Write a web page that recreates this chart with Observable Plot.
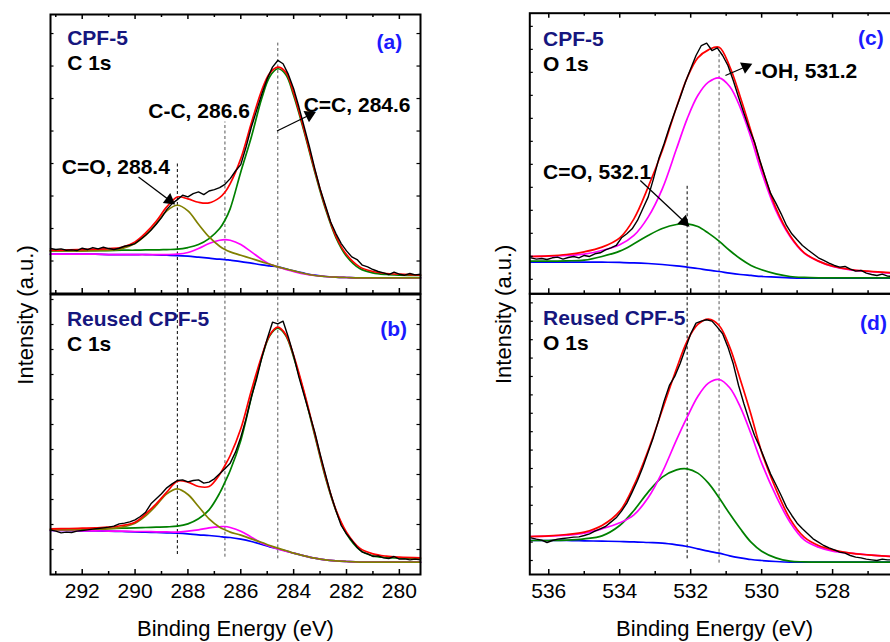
<!DOCTYPE html>
<html><head><meta charset="utf-8">
<script src="https://cdn.jsdelivr.net/npm/d3@7"></script>
<script src="https://cdn.jsdelivr.net/npm/@observablehq/plot@0.6"></script>
<style>
html,body{margin:0;padding:0;background:#fff;overflow:hidden;}
#chart{position:relative;width:890px;height:642px;overflow:hidden;background:#fff;}
#chart > div{position:absolute;left:0;top:0;}
</style></head><body><div id="chart"></div>
<script>
// ---------- C 1s (panels a, b) ----------
const cFitX = [293.2, 292.5, 292, 291.5, 291, 290.5, 290, 289.6, 289.2, 288.8, 288.4, 288, 287.6, 287.2, 286.8, 286.6, 286.4, 286, 285.6, 285.2, 284.9, 284.6, 284.3, 284, 283.6, 283.2, 282.8, 282.4, 282, 281.5, 281, 280.5, 280, 279.2];
const cDataX = [293.2, 293.0, 292.8, 292.6, 292.4, 292.2, 292.0, 291.8, 291.6, 291.4, 291.2, 291.0, 290.8, 290.6, 290.4, 290.2, 290.0, 289.8, 289.6, 289.4, 289.2, 289.0, 288.8, 288.6, 288.4, 288.2, 288.0, 287.8, 287.6, 287.4, 287.2, 287.0, 286.8, 286.6, 286.4, 286.2, 286.0, 285.8, 285.6, 285.4, 285.2, 285.0, 284.8, 284.6, 284.4, 284.2, 284.0, 283.8, 283.6, 283.4, 283.2, 283.0, 282.8, 282.6, 282.4, 282.2, 282.0, 281.8, 281.6, 281.4, 281.2, 281.0, 280.8, 280.6, 280.4, 280.2, 280.0, 279.8, 279.6, 279.4, 279.2];

const aData  = [135,132,134,130,131,129,136,132,138,134,139,135,132,136,142,145,150,162,175,190,208,228,252,270,282,295,290,300,305,297,308,312,318,328,345,368,387,440,500,550,600,645,680,700,690,658,615,560,500,440,375,315,265,215,180,150,128,110,102,85,80,72,66,62,57,64,58,55,60,56,58];
const aRed   = [130,131,132,133,135,139,155,182,217,260,290,284,274,272,288,304,330,405,512,612,662,680,665,602,490,370,260,172,117,80,66,60,58,55];
const aGreen = [128,128,128,129,129,130,130,131,131,132,133,138,147,165,195,220,255,365,470,588,652,675,658,595,485,365,255,168,112,75,62,57,55,54];
const aOlive = [128,128,128,129,130,135,150,175,210,248,265,248,208,170,142,132,125,115,105,95,88,80,74,68,60,54,51,49,48,47,47,47,47,47];
const aMag   = [118,118,118,118,117,117,117,117,117,117,118,123,135,150,160,162,160,147,125,102,88,80,72,66,59,54,51,49,48,47,47,47,47,47];
const aBlue  = [118,118,118,118,117,117,117,117,116,115,114,112,109,106,103,102,100,96,91,86,83,80,74,68,61,55,51,49,48,47,47,47,47,47];

const bData  = [134,130,125,127,126,130,132,134,136,138,140,142,145,152,154,158,164,174,187,212,227,242,260,272,282,284,278,282,284,274,277,287,302,317,334,367,412,467,532,587,652,707,757,752,760,712,657,592,537,482,427,362,302,242,192,147,122,102,82,67,62,54,56,50,48,54,46,47,44,46,44];
const bRed   = [137,138,139,140,142,147,157,182,212,247,280,277,264,264,300,327,357,437,552,657,719,742,720,657,547,422,297,194,127,79,62,55,52,50];
const bGreen = [134,135,136,137,138,139,140,141,142,143,145,152,167,194,244,277,312,402,532,652,717,739,717,652,542,417,292,192,122,74,56,51,49,48];
const bOlive = [134,134,135,136,137,142,154,176,207,242,257,240,204,167,142,134,127,118,107,96,87,79,72,64,56,49,44,41,39,37,37,37,37,37];
const bMag   = [132,132,131,131,130,130,129,129,128,128,127,130,134,140,143,144,141,130,112,94,85,77,70,64,56,49,44,41,39,37,37,37,37,37];
const bBlue  = [132,132,131,131,130,129,128,127,126,125,124,122,119,117,114,112,111,106,99,90,83,77,71,64,56,49,44,41,39,37,37,37,37,37];

// ---------- O 1s (panels c, d) ----------
const oFitX = [536.53, 536, 535.5, 535, 534.5, 534, 533.6, 533.2, 532.8, 532.4, 532.1, 531.8, 531.5, 531.2, 530.9, 530.6, 530.3, 530, 529.6, 529.2, 528.8, 528.4, 528, 527.5, 527, 526.5, 526.1];
const oDataX = [536.5, 536.35, 536.2, 536.05, 535.9, 535.75, 535.6, 535.45, 535.3, 535.15, 535.0, 534.85, 534.7, 534.55, 534.4, 534.25, 534.1, 533.95, 533.8, 533.65, 533.5, 533.35, 533.2, 533.05, 532.9, 532.75, 532.6, 532.45, 532.3, 532.15, 532.0, 531.85, 531.7, 531.55, 531.4, 531.25, 531.1, 530.95, 530.8, 530.65, 530.5, 530.35, 530.2, 530.05, 529.9, 529.75, 529.6, 529.45, 529.3, 529.15, 529.0, 528.85, 528.7, 528.55, 528.4, 528.25, 528.1, 527.95, 527.8, 527.65, 527.5, 527.35, 527.2, 527.05, 526.9, 526.75, 526.6, 526.45, 526.3, 526.15];

const cData  = [108,104,106,103,108,110,104,109,112,108,115,112,120,123,132,138,145,168,180,195,220,255,290,345,405,450,500,545,588,635,675,715,745,752,730,738,715,685,640,590,542,495,455,400,350,302,272,240,205,180,162,145,132,120,108,100,92,85,80,82,74,68,70,62,58,55,59,53,52,52];
const cRed   = [112,114,118,126,140,168,225,320,430,560,648,708,732,740,682,590,488,380,258,175,123,98,83,73,68,64,62];
const cMag   = [112,113,115,119,130,147,175,230,315,435,525,595,635,648,622,558,468,365,250,172,122,98,82,72,67,63,61];
const cGreen = [98,98,99,101,112,128,150,175,196,208,210,202,182,158,130,105,85,72,60,52,49,48,48,48,48,48,48];
const cBlue  = [95,95,95,95,95,94,93,91,88,84,80,76,71,67,62,58,55,52,50,48,47,47,47,47,47,47,47];

const dData  = [110,106,103,96,102,106,108,110,112,113,117,122,130,137,144,157,170,190,214,247,282,322,367,412,464,520,567,594,632,677,722,754,760,764,760,742,722,682,632,567,512,462,417,382,342,302,270,237,202,177,154,137,122,107,97,87,80,74,67,64,57,52,50,46,44,42,46,44,44,43];
const dRed   = [114,116,120,127,147,190,267,372,494,617,700,750,766,747,682,584,480,367,257,167,112,87,74,64,59,55,53];
const dMag   = [114,115,118,124,137,155,179,230,307,404,472,534,574,585,560,502,422,334,237,157,104,82,70,64,59,55,53];
const dGreen = [102,102,103,107,116,147,192,247,292,314,317,304,274,230,182,137,97,70,50,40,38,37,37,37,37,37,37];
const dBlue  = [102,102,102,101,100,99,98,96,94,89,84,77,70,64,56,50,45,42,39,37,37,37,37,37,37,37,37];

// ---------- ticks and labels ----------
const cMajorTicks = [292, 290, 288, 286, 284, 282, 280];
const cMinorTicks = [293, 291, 289, 287, 285, 283, 281];
const oMajorTicks = [536, 534, 532, 530, 528];
const oMinorTicks = [535, 533, 531, 529, 527];
const xTitle = "Binding Energy (eV)";
const yTitle = "Intensity (a.u.)";

const NAVY = "#16167e", BLUE = "#1a1aff";
const aTexts = [
  {text: "CPF-5", x: 292.57, y: 745, fill: NAVY, anchor: "start"},
  {text: "C 1s", x: 292.57, y: 670, fill: "#000", anchor: "start"},
  {text: "(a)", x: 279.89, y: 733, fill: BLUE, anchor: "end"},
  {text: "C-C, 286.6", x: 289.50, y: 526, fill: "#000", anchor: "start"},
  {text: "C=C, 284.6", x: 283.62, y: 545, fill: "#000", anchor: "start"},
  {text: "C=O, 288.4", x: 292.77, y: 358, fill: "#000", anchor: "start"}
];
const bTexts = [
  {text: "Reused CPF-5", x: 292.58, y: 747, fill: NAVY, anchor: "start"},
  {text: "C 1s", x: 292.58, y: 672, fill: "#000", anchor: "start"},
  {text: "(b)", x: 279.71, y: 717, fill: BLUE, anchor: "end"}
];
const cTexts = [
  {text: "CPF-5", x: 536.16, y: 745, fill: NAVY, anchor: "start"},
  {text: "O 1s", x: 536.16, y: 670, fill: "#000", anchor: "start"},
  {text: "(c)", x: 526.56, y: 747, fill: BLUE, anchor: "end"},
  {text: "-OH, 531.2", x: 530.20, y: 648, fill: "#000", anchor: "start"},
  {text: "C=O, 532.1", x: 536.16, y: 345, fill: "#000", anchor: "start"}
];
const dTexts = [
  {text: "Reused CPF-5", x: 536.16, y: 747, fill: NAVY, anchor: "start"},
  {text: "O 1s", x: 536.16, y: 672, fill: "#000", anchor: "start"},
  {text: "(d)", x: 526.47, y: 732, fill: BLUE, anchor: "end"}
];
const aArrows = [{x1: 284.63, y1: 488, x2: 283.30, y2: 540}, {x1: 289.87, y1: 350, x2: 288.61, y2: 275}];
const cArrows = [{x1: 531.02, y1: 655, x2: 530.37, y2: 685}, {x1: 533.42, y1: 340, x2: 532.12, y2: 210}];
const aDashes = [{x: 288.4, y1: 0, y2: 395, color: "#000"}, {x: 286.6, y1: 0, y2: 515, color: "#555"}, {x: 284.6, y1: 0, y2: 752, color: "#555"}];
const bDashes = [{x: 288.4, y1: 60, y2: 840, color: "#000"}, {x: 286.6, y1: 52, y2: 840, color: "#555"}, {x: 284.6, y1: 47, y2: 840, color: "#555"}];
const cDashes = [{x: 532.1, y1: 0, y2: 325, color: "#000"}, {x: 531.2, y1: 0, y2: 730, color: "#555"}];
const dDashes = [{x: 532.1, y1: 47, y2: 842, color: "#000"}, {x: 531.2, y1: 34, y2: 842, color: "#555"}];

const FONT = "'Liberation Sans', Arial, Helvetica, sans-serif";

function table(xs, ys) { return xs.map((x, i) => ({x, y: ys[i]})); }

function panel(o) {
  const H = 642;
  const fw = o.right - o.left, fh = o.bottom - o.top;
  const sx = fw / (o.xDomain[1] - o.xDomain[0]);   // px per eV (signed)
  const sy = fh / o.yMax;                          // px per unit
  const marks = [];
  for (const d of o.dashes) marks.push(Plot.ruleX([d], {x: "x", y1: "y1", y2: "y2", stroke: d.color, strokeWidth: 1, strokeDasharray: "3,2.5"}));
  const fits = [["blue", o.blue], ["green", o.green], ["magenta", o.mag]];
  if (o.olive) fits.push(["#808000", o.olive]);
  fits.push(["red", o.red]);
  for (const [col, ys] of fits) marks.push(Plot.line(table(o.fitX, ys), {x: "x", y: "y", stroke: col, strokeWidth: 1.7, curve: "catmull-rom"}));
  marks.push(Plot.line(table(o.dataX, o.data), {x: "x", y: "y", stroke: "black", strokeWidth: 1.4}));
  if (o.arrows) {
    // arrow heads: filled triangles pulled back ~3px from the arrow end along its direction
    const heads = o.arrows.map(d => {
      const px = (d.x2 - d.x1) * sx, py = -(d.y2 - d.y1) * sy;
      const len = Math.hypot(px, py), back = 3;
      return {x: d.x2 - (px / len) * back / sx, y: d.y2 + (py / len) * back / sy,
              angle: Math.atan2(py, px) * 180 / Math.PI + 90};
    });
    marks.push(Plot.link(o.arrows, {x1: "x1", y1: "y1", x2: "x2", y2: "y2", stroke: "black", strokeWidth: 1.3}));
    marks.push(Plot.dot(heads, {x: "x", y: "y", symbol: "triangle", r: 4.6, fill: "black", stroke: null, rotate: "angle"}));
  }
  for (const t of o.texts) marks.push(Plot.text([t], {x: "x", y: "y", text: "text", fill: t.fill, textAnchor: t.anchor, lineAnchor: "bottom", fontSize: 21, fontWeight: "bold"}));
  // ticks (inward)
  marks.push(Plot.tickX(o.major, {x: d => d, insetTop: fh - 5, stroke: "black", strokeWidth: 1.5}));
  marks.push(Plot.tickX(o.minor, {x: d => d, insetTop: fh - 3, stroke: "black", strokeWidth: 1.5}));
  if (o.topTicks) {
    marks.push(Plot.tickX(o.major, {x: d => d, insetBottom: fh - 5, stroke: "black", strokeWidth: 1.5}));
    marks.push(Plot.tickX(o.minor, {x: d => d, insetBottom: fh - 3, stroke: "black", strokeWidth: 1.5}));
  }
  marks.push(Plot.tickY(o.yTicks, {y: d => d, insetRight: fw - 3.5, stroke: "black", strokeWidth: 1.2}));
  marks.push(Plot.tickY(o.yTicks, {y: d => d, insetLeft: fw - 3.5, stroke: "black", strokeWidth: 1.2}));
  marks.push(Plot.frame({stroke: "black", strokeWidth: 2}));
  if (o.labels) {
    marks.push(Plot.text(o.major, {x: d => d, text: d => String(d), frameAnchor: "bottom", dy: 23, lineAnchor: "bottom", fontSize: 21, fill: "black"}));
    marks.push(Plot.text([xTitle], {text: d => d, frameAnchor: "bottom", dy: 61, lineAnchor: "bottom", fontSize: 22}));
    marks.push(Plot.text([yTitle], {text: d => d, frameAnchor: "top-left", dx: o.yTitleDx, dy: 20.5, rotate: -90, textAnchor: "middle", lineAnchor: "bottom", fontSize: 22}));
  }
  const svg = Plot.plot({
    width: o.width, height: H,
    marginLeft: o.left, marginRight: o.width - o.right,
    marginTop: o.top, marginBottom: H - o.bottom,
    x: {domain: o.xDomain, axis: null},
    y: {domain: [0, o.yMax], axis: null},
    style: {fontFamily: FONT, background: "transparent", overflow: "visible", maxWidth: "none"},
    marks
  });
  svg.style.background = "transparent";
  svg.style.maxWidth = "none";
  svg.style.fontFamily = FONT;
  const wrap = document.createElement("div");
  wrap.appendChild(svg);
  document.getElementById("chart").appendChild(wrap);
}

const cDomain = [293.2, 279.2];
const oDomain = [536.535, 526.12];

panel({width: 890, left: 50, right: 420, top: 14, bottom: 293, xDomain: cDomain, yMax: 838,
  fitX: cFitX, dataX: cDataX, data: aData, red: aRed, green: aGreen, olive: aOlive, mag: aMag, blue: aBlue,
  dashes: aDashes, texts: aTexts, arrows: aArrows, major: cMajorTicks, minor: cMinorTicks, topTicks: true,
  yTicks: d3.range(1, 9).map(k => 97.6 * k)});
panel({width: 890, left: 50, right: 420, top: 294, bottom: 574, xDomain: cDomain, yMax: 840,
  fitX: cFitX, dataX: cDataX, data: bData, red: bRed, green: bGreen, olive: bOlive, mag: bMag, blue: bBlue,
  dashes: bDashes, texts: bTexts, major: cMajorTicks, minor: cMinorTicks, topTicks: false,
  yTicks: d3.range(1, 12).map(k => 75 * k), labels: true, yTitleDx: -18});
panel({width: 910, left: 529.3, right: 898.8, top: 12.7, bottom: 293.3, xDomain: oDomain, yMax: 842,
  fitX: oFitX, dataX: oDataX, data: cData, red: cRed, green: cGreen, mag: cMag, blue: cBlue,
  dashes: cDashes, texts: cTexts, arrows: cArrows, major: oMajorTicks, minor: oMinorTicks, topTicks: true,
  yTicks: d3.range(0, 12).map(k => 43.5 + 69 * k)});
panel({width: 910, left: 529.3, right: 898.8, top: 293.3, bottom: 574, xDomain: oDomain, yMax: 842,
  fitX: oFitX, dataX: oDataX, data: dData, red: dRed, green: dGreen, mag: dMag, blue: dBlue,
  dashes: dDashes, texts: dTexts, major: oMajorTicks, minor: oMinorTicks, topTicks: false,
  yTicks: d3.range(0, 15).map(k => 42 + 55.2 * k), labels: true, yTitleDx: -19.3});
</script></body></html>
